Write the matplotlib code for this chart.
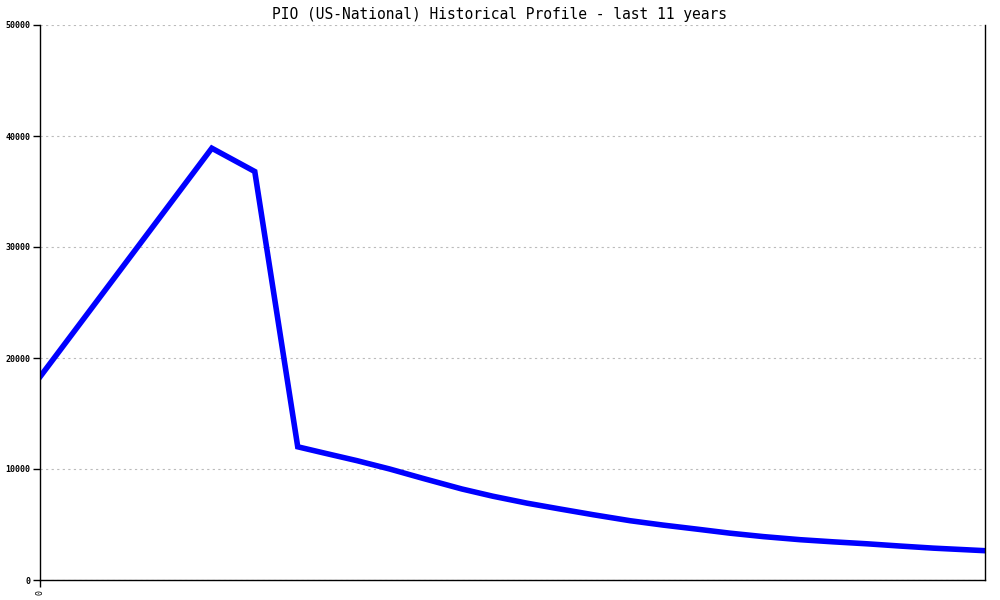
import matplotlib
matplotlib.use('Agg')
import matplotlib.pyplot as plt

# years since start of profile, and values
years = [0.0, 2.0, 2.5, 3.0, 3.29, 3.69, 4.07, 4.46, 4.91, 5.27, 5.67, 6.05,
         6.44, 6.87, 7.25, 7.65, 8.03, 8.42, 8.85, 9.23, 9.63, 10.01, 10.40, 11.0]
values = [18300, 38900, 36800, 12000, 11470, 10750, 10000, 9150, 8200, 7550, 6920, 6400,
          5880, 5340, 4950, 4580, 4220, 3910, 3630, 3440, 3260, 3060, 2870, 2640]
yticks = [0, 10000, 20000, 30000, 40000, 50000]

fig = plt.figure(figsize=(10, 6), dpi=100)
ax = fig.add_axes([0.04, 1 - 580 / 600, 0.945, 555 / 600])

ax.plot(years, values, color='#0000ff', linewidth=4.0, solid_joinstyle='miter')

ax.set_xlim(0, 11)
ax.set_ylim(0, 50000)
ax.set_yticks(yticks)
ax.set_yticklabels([str(v) for v in yticks], fontsize=6, family='DejaVu Sans Mono',
                   fontweight='bold')
ax.set_xticks([0])
ax.set_xticklabels(['0'], rotation=90, fontsize=6, family='DejaVu Sans Mono')
ax.tick_params(axis='y', length=5, width=1, pad=2)
ax.tick_params(axis='x', length=5, width=1, pad=2)

ax.grid(axis='y', color='#bbbbbb', linestyle=(0, (2, 3)), linewidth=0.8)
ax.spines['top'].set_visible(False)
for s in ['left', 'right', 'bottom']:
    ax.spines[s].set_color('black')
    ax.spines[s].set_linewidth(1)

fig.text(0.5, 1 - 14 / 600, 'PIO (US-National) Historical Profile - last 11 years',
         ha='center', va='center', fontsize=10.5, family='DejaVu Sans Mono')

fig.savefig('out.png', dpi=100)
